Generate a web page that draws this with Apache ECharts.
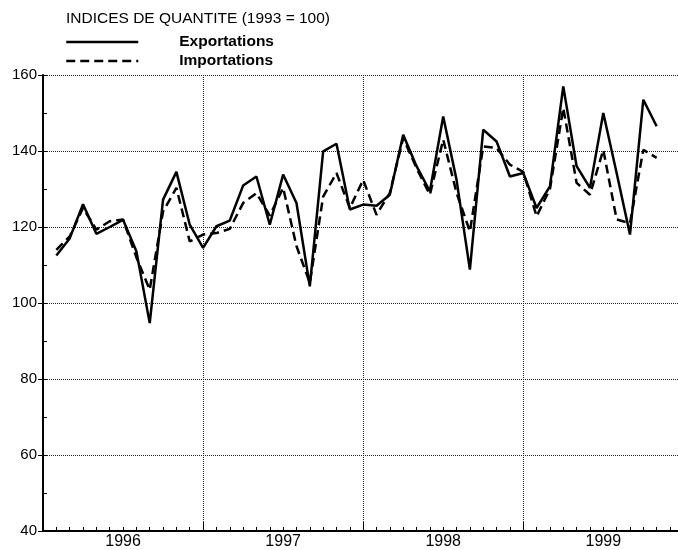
<!DOCTYPE html>
<html>
<head>
<meta charset="utf-8">
<script src="https://cdn.jsdelivr.net/npm/echarts@6/dist/echarts.min.js"></script>
<style>
html, body { margin: 0; padding: 0; background: #fff; }
#chart { width: 678px; height: 550px; }
</style>
</head>
<body>
<div id="chart"></div>
<script>
// indices mensuels, janvier 1996 -> octobre 1999
var years = ['1996', '1997', '1998', '1999'];
var exportations = [
  112.5, 117, 126, 118.2, 120, 121.9, 113.6, 94.7, 127.2, 134.5, 120.6, 114.5,
  120.2, 121.7, 130.9, 133.3, 120.6, 133.8, 126.3, 104.4, 139.9, 141.9, 124.6, 125.9,
  125.6, 128.5, 144.3, 136, 129.4, 149.1, 132.4, 108.8, 145.6, 142.5, 133.3, 134.2,
  125, 130.7, 157, 136, 130.3, 150, 134.2, 118, 153.5, 146.5
];
var importations = [
  114, 117.5, 125, 119.3, 121.5, 122, 112, 103.5, 124.1, 130.3, 116.2, 118,
  118.4, 119.5, 126.3, 128.9, 123, 130.3, 115, 105.3, 128, 134.2, 125, 132.4,
  123.2, 129, 143.4, 135.5, 128.5, 143, 129, 118.8, 141.2, 140.8, 136.4, 134.5,
  122.8, 130, 151.3, 131.6, 128.5, 140.3, 122, 121, 140.3, 138.2
];
var yMin = 40, yMax = 160, yStep = 20;

var fontFamily = '"Liberation Sans", Arial, sans-serif';

function toPoints(values) {
  return values.map(function (v, i) { return [i + 1, v]; });
}

var option = {
  backgroundColor: '#fff',
  animation: false,
  title: {
    text: 'INDICES DE QUANTITE (1993 = 100)',
    left: 66,
    top: 11,
    padding: 0,
    textStyle: { fontFamily: fontFamily, fontSize: 15.5, fontWeight: 'normal', color: '#000' }
  },
  legend: {
    orient: 'vertical',
    left: 65,
    top: 34,
    padding: 0,
    itemWidth: 72,
    itemHeight: 16,
    itemGap: 3,
    itemStyle: { opacity: 0 },
    lineStyle: { width: 2.5 },
    textStyle: { fontFamily: fontFamily, fontSize: 15.5, fontWeight: 'bold', color: '#000', padding: [0, 0, 0, 36], lineHeight: 16 },
    data: ['Exportations', 'Importations']
  },
  grid: { left: 43, right: 0, top: 75, bottom: 19, containLabel: false },
  xAxis: [{
    type: 'value',
    min: 0,
    max: 47.6,
    interval: 1,
    position: 'bottom',
    axisLine: { lineStyle: { color: '#000', width: 2 } },
    axisTick: { inside: true, length: 4, lineStyle: { color: '#000' } },
    splitLine: { show: false },
    axisLabel: {
      margin: 3,
      fontFamily: fontFamily,
      fontSize: 16,
      color: '#000',
      showMaxLabel: false,
      formatter: function (v) {
        if (v % 12 === 6) return years[(v - 6) / 12];
        return '';
      }
    }
  }, {
    type: 'value',
    min: 0,
    max: 47.6,
    interval: 12,
    position: 'bottom',
    axisLine: { show: false },
    axisTick: { inside: true, length: 9, lineStyle: { color: '#000' } },
    axisLabel: { show: false },
    splitLine: { show: true, lineStyle: { color: '#222', type: 'dotted', width: 1 } }
  }],
  yAxis: [{
    type: 'value',
    min: yMin,
    max: yMax,
    interval: yStep,
    position: 'left',
    axisLine: { show: true, lineStyle: { color: '#000', width: 2 } },
    axisTick: { show: true, length: 5, lineStyle: { color: '#000' } },
    splitLine: { show: true, lineStyle: { color: '#222', type: 'dotted', width: 1 } },
    axisLabel: { margin: 6, fontFamily: fontFamily, fontSize: 15, color: '#000' }
  }, {
    type: 'value',
    min: yMin,
    max: yMax,
    interval: yStep / 2,
    position: 'left',
    axisLine: { show: false },
    axisTick: { show: true, inside: true, length: 4, lineStyle: { color: '#000' } },
    axisLabel: { show: false },
    splitLine: { show: false }
  }],
  series: [{
    name: 'Exportations',
    type: 'line',
    data: toPoints(exportations),
    symbol: 'none',
    lineStyle: { color: '#000', width: 2.5 },
    itemStyle: { color: '#000', opacity: 0 }
  }, {
    name: 'Importations',
    type: 'line',
    data: toPoints(importations),
    symbol: 'none',
    lineStyle: { color: '#000', width: 2.5, type: [9, 5] },
    itemStyle: { color: '#000', opacity: 0 }
  }]
};

var myChart = echarts.init(document.getElementById('chart'));
myChart.setOption(option);
</script>
</body>
</html>
